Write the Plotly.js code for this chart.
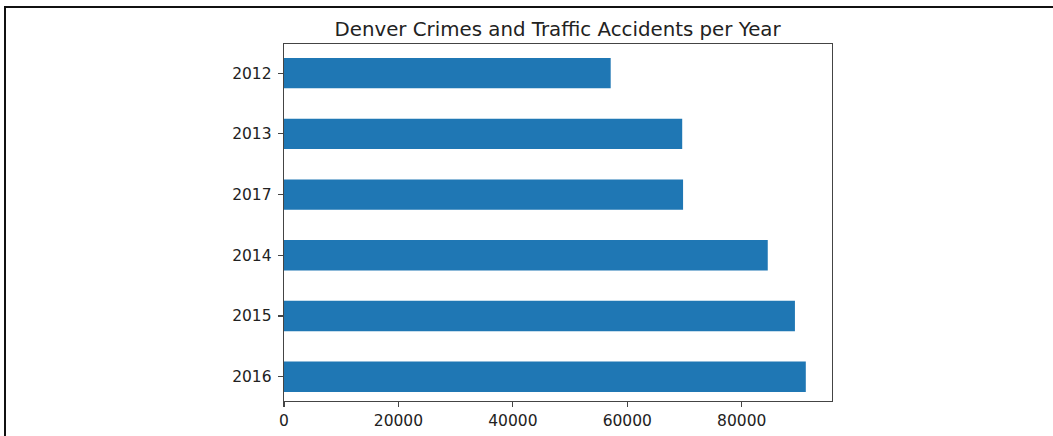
<!DOCTYPE html>
<html>
<head>
<meta charset="utf-8">
<script src="https://cdn.plot.ly/plotly-3.0.1.min.js"></script>
<style>
  html, body { margin: 0; padding: 0; background: #fff; }
  #chart { width: 1053px; height: 436px; }
  #frame { position: absolute; left: 4px; top: 6px; width: 1049px; height: 430px;
           border-top: 2px solid #111; border-left: 2px solid #111; pointer-events: none; box-sizing: border-box; }
</style>
</head>
<body>
<div id="chart"></div>
<div id="frame"></div>
<script>
const years = ['2012', '2013', '2017', '2014', '2015', '2016'];
const counts = [57100, 69600, 69750, 84550, 89300, 91200];
const xTickVals = [0, 20000, 40000, 60000, 80000];
const chartTitle = 'Denver Crimes and Traffic Accidents per Year';

const trace = {
  type: 'bar',
  orientation: 'h',
  y: years,
  x: counts,
  width: 0.5,
  marker: { color: '#1f77b4', line: { width: 0 } },
  hoverinfo: 'x+y'
};

const axisCommon = {
  showline: true, mirror: true, linecolor: '#444', linewidth: 1.3,
  showgrid: false, zeroline: false,
  ticks: 'outside', ticklen: 5, tickwidth: 1.2, tickcolor: '#444',
  tickfont: { family: 'DejaVu Sans', size: 15.5, color: '#222' }
};

const layout = {
  width: 1053, height: 436,
  margin: { l: 284, r: 221, t: 44, b: 35 },
  paper_bgcolor: '#fff', plot_bgcolor: '#fff',
  showlegend: false,
  title: { text: chartTitle, x: 0.5295, xanchor: 'center', y: 0.934, yanchor: 'middle',
           font: { family: 'DejaVu Sans', size: 19.8, color: '#222' } },
  xaxis: Object.assign({}, axisCommon, { range: [0, 95780], tickvals: xTickVals, ticktext: xTickVals.map(String) }),
  yaxis: Object.assign({}, axisCommon, { type: 'category', range: [5.40, -0.48], ticklabelstandoff: 3 })
};

Plotly.newPlot('chart', [trace], layout, { displayModeBar: false, staticPlot: true });
</script>
</body>
</html>
